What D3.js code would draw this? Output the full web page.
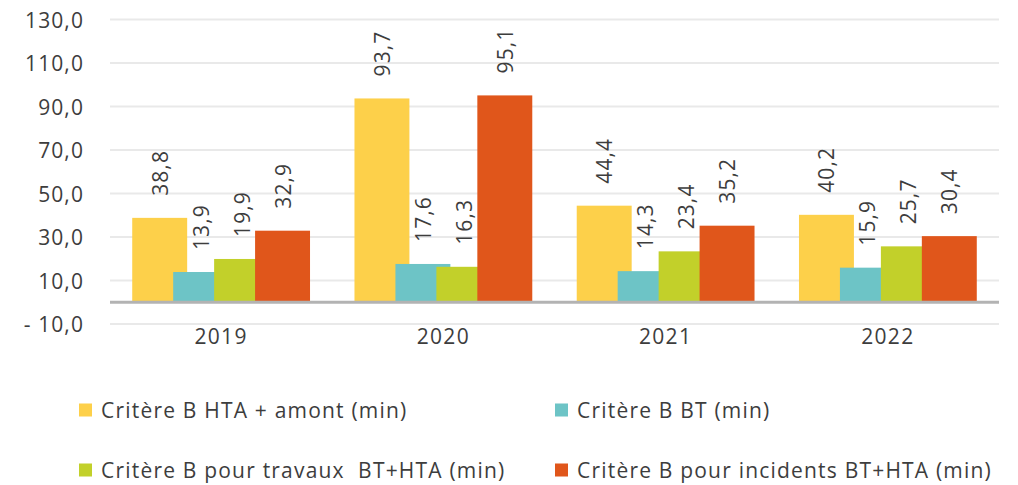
<!DOCTYPE html>
<html><head><meta charset="utf-8">
<script src="https://cdn.jsdelivr.net/npm/d3@7"></script>
<style>
html,body{margin:0;padding:0;background:#fff;}
svg{display:block;}
text{font-family:"Open Sans",sans-serif;fill:#3d3d3d;}
</style></head>
<body>
<svg id="chart" width="1018" height="485"></svg>
<script>
const years = ["2019","2020","2021","2022"];
const seriesNames = [
  "Critère B HTA + amont (min)",
  "Critère B BT (min)",
  "Critère B pour travaux  BT+HTA (min)",
  "Critère B pour incidents BT+HTA (min)"
];
const seriesColors = ["#FDD04A","#6DC4C6","#C2D02A","#E0561B"];
const htaAmont  = [38.8, 93.7, 44.4, 40.2];
const bt        = [13.9, 17.6, 14.3, 15.9];
const travaux   = [19.9, 16.3, 23.4, 25.7];
const incidents = [32.9, 95.1, 35.2, 30.4];
const tickValues = [-10, 10, 30, 50, 70, 90, 110, 130];
const tickLabels = ["- 10,0","10,0","30,0","50,0","70,0","90,0","110,0","130,0"];

const seriesValues = [htaAmont, bt, travaux, incidents];
const svg = d3.select("#chart");
const plotLeft = 110, plotRight = 999, plotTop = 19.5, plotBottom = 324;

const x = d3.scaleBand().domain(years).range([plotLeft, plotRight]).paddingInner(0.2).paddingOuter(0.1);
const y = d3.scaleLinear().domain([-10, 130]).range([plotBottom, plotTop]);

const bw = x.bandwidth();
const barW = bw * 55 / 178;
const barStep = (bw - barW) / 3;

// gridlines
svg.append("g").selectAll("line").data(tickValues).join("line")
  .attr("x1", plotLeft).attr("x2", plotRight)
  .attr("y1", d => y(d)).attr("y2", d => y(d))
  .attr("stroke", "#e9e9e9").attr("stroke-width", 2);

// y tick labels
svg.append("g").selectAll("text").data(tickValues).join("text")
  .attr("x", 84).attr("y", d => y(d))
  .attr("text-anchor", "end").attr("dominant-baseline", "central")
  .style("font-size", "21px").style("letter-spacing", "1.1px")
  .text((d, i) => tickLabels[i]);

// bars
seriesValues.forEach((vals, si) => {
  svg.append("g").selectAll("rect").data(vals).join("rect")
    .attr("x", (d, i) => x(years[i]) + si * barStep)
    .attr("width", barW)
    .attr("y", d => y(Math.max(0, d)))
    .attr("height", d => Math.abs(y(d) - y(0)))
    .attr("fill", seriesColors[si]);
});

// zero line
svg.append("line").attr("x1", plotLeft).attr("x2", plotRight)
  .attr("y1", y(0)).attr("y2", y(0))
  .attr("stroke", "#b3b3b3").attr("stroke-width", 3);

// value labels
seriesValues.forEach((vals, si) => {
  svg.append("g").selectAll("text").data(vals).join("text")
    .attr("transform", (d, i) => {
      const cx = x(years[i]) + si * barStep + barW / 2;
      const cy = y(d) - 22;
      return `translate(${cx},${cy}) rotate(-90)`;
    })
    .attr("text-anchor", "start").attr("dominant-baseline", "central")
    .style("font-size", "21px").style("letter-spacing", "1.1px")
    .text(d => d.toFixed(1).replace(".", ","));
});

// x axis labels
svg.append("g").selectAll("text").data(years).join("text")
  .attr("x", d => x(d) + bw / 2).attr("y", 336)
  .attr("text-anchor", "middle").attr("dominant-baseline", "central")
  .style("font-size", "21px").style("letter-spacing", "1.25px")
  .text(d => d);

// legend
const legX = [79, 555], legY = [410, 470];
seriesNames.forEach((name, i) => {
  const lx = legX[i % 2], ly = legY[Math.floor(i / 2)];
  const g = svg.append("g");
  g.append("rect").attr("x", lx).attr("y", ly - 6.5).attr("width", 13).attr("height", 13)
    .attr("fill", seriesColors[i]);
  g.append("text").attr("x", lx + 22).attr("y", ly)
    .attr("dominant-baseline", "central")
    .style("font-size", "21px").style("letter-spacing", "1.2px").style("white-space", "pre")
    .text(name);
});
</script>
</body></html>
